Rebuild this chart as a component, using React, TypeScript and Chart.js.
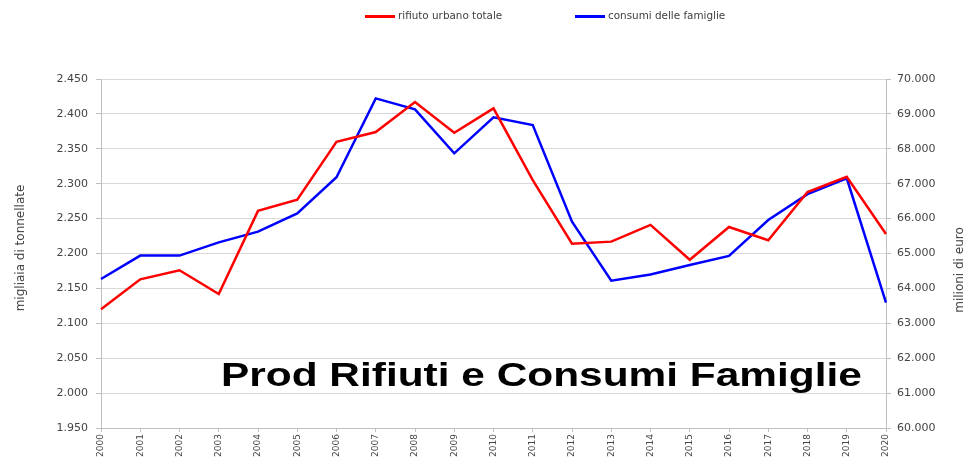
import React, { useEffect, useRef } from 'react';
import { Chart, registerables } from 'chart.js';

Chart.register(...registerables);

const years = ['2000', '2001', '2002', '2003', '2004', '2005', '2006', '2007', '2008', '2009', '2010', '2011', '2012', '2013', '2014', '2015', '2016', '2017', '2018', '2019', '2020'];
const rifiutoUrbano = [2120, 2163, 2176, 2142, 2261, 2277, 2360, 2374, 2417, 2373, 2408, 2305, 2214, 2217, 2241, 2191, 2238, 2219, 2288, 2310, 2228];
const consumiFamiglie = [64270, 64940, 64940, 65320, 65625, 66150, 67185, 69445, 69130, 67870, 68900, 68680, 65910, 64220, 64400, 64670, 64930, 65960, 66700, 67155, 63590];

const legendLabels = ['rifiuto urbano totale', 'consumi delle famiglie'];
const titleText = 'Prod Rifiuti e Consumi Famiglie';
const leftAxisTitle = 'migliaia di tonnellate';
const rightAxisTitle = 'milioni di euro';

const RED = '#ff0000';
const BLUE = '#0000ff';
const TICK_COLOR = '#444444';
const GRID = '#d9d9d9';
const AXIS = '#bfbfbf';

const fmt = (v: number) => Math.round(v).toString().replace(/\B(?=(\d{3})+(?!\d))/g, '.');

export default function App() {
  const ref = useRef<HTMLCanvasElement>(null);

  useEffect(() => {
    const chart = new Chart(ref.current!, {
      type: 'line',
      data: {
        labels: years,
        datasets: [
          {
            label: legendLabels[0],
            data: rifiutoUrbano,
            borderColor: RED,
            backgroundColor: RED,
            borderWidth: 2.5,
            pointRadius: 0,
            tension: 0,
            yAxisID: 'y',
          },
          {
            label: legendLabels[1],
            data: consumiFamiglie,
            borderColor: BLUE,
            backgroundColor: BLUE,
            borderWidth: 2.5,
            pointRadius: 0,
            tension: 0,
            yAxisID: 'y1',
          },
        ],
      },
      options: {
        animation: false,
        responsive: true,
        maintainAspectRatio: false,
        layout: { padding: { top: 79, left: 0, right: 0, bottom: 0 } },
        plugins: {
          legend: { display: false },
          tooltip: { enabled: false },
          title: { display: false },
        },
        scales: {
          x: {
            offset: false,
            grid: { display: true, drawOnChartArea: false, drawTicks: true, tickLength: 4, color: AXIS },
            border: { display: true, color: AXIS },
            ticks: {
              minRotation: 90,
              maxRotation: 90,
              autoSkip: false,
              padding: 2,
              color: TICK_COLOR,
              font: { family: 'DejaVu Sans', size: 9 },
            },
            afterFit: (s: any) => { s.height = 31; },
          },
          y: {
            position: 'left',
            min: 1950,
            max: 2450,
            ticks: {
              stepSize: 50,
              padding: 8,
              color: TICK_COLOR,
              font: { family: 'DejaVu Sans', size: 11 },
              callback: (v: any) => fmt(Number(v)),
            },
            grid: { color: GRID, lineWidth: 1, tickLength: 5, tickColor: AXIS },
            border: { display: true, color: AXIS },
            afterFit: (s: any) => { s.width = 101; },
          },
          y1: {
            position: 'right',
            min: 60000,
            max: 70000,
            ticks: {
              stepSize: 1000,
              padding: 6,
              color: TICK_COLOR,
              font: { family: 'DejaVu Sans', size: 11 },
              callback: (v: any) => fmt(Number(v)),
            },
            grid: { drawOnChartArea: false, tickLength: 5, color: AXIS },
            border: { display: true, color: AXIS },
            afterFit: (s: any) => { s.width = 82; },
          },
        },
      },
    });
    return () => chart.destroy();
  }, []);

  const textBase: React.CSSProperties = {
    position: 'absolute',
    fontFamily: 'DejaVu Sans',
    color: TICK_COLOR,
    whiteSpace: 'nowrap',
  };

  return (
    <div style={{ position: 'absolute', left: 0, top: 0, width: 968, height: 459, background: '#fff', overflow: 'hidden' }}>
      <canvas ref={ref} style={{ position: 'absolute', left: 0, top: 0 }} />
      {/* legend */}
      <div style={{ position: 'absolute', left: 365, top: 15, width: 30, height: 3, background: RED }} />
      <div style={{ ...textBase, left: 398, top: 9, fontSize: 10.4, lineHeight: '13px', color: '#404040' }}>{legendLabels[0]}</div>
      <div style={{ position: 'absolute', left: 575, top: 15, width: 30, height: 3, background: BLUE }} />
      <div style={{ ...textBase, left: 608, top: 9, fontSize: 10.4, lineHeight: '13px', color: '#404040' }}>{legendLabels[1]}</div>
      {/* axis titles */}
      <div style={{ ...textBase, left: 20 - 100, top: 248 - 8, width: 200, textAlign: 'center', fontSize: 12, lineHeight: '16px', transform: 'rotate(-90deg)' }}>{leftAxisTitle}</div>
      <div style={{ ...textBase, left: 959 - 100, top: 270 - 8, width: 200, textAlign: 'center', fontSize: 12, lineHeight: '16px', transform: 'rotate(-90deg)' }}>{rightAxisTitle}</div>
      {/* overlay title */}
      <div style={{ position: 'absolute', left: 221, top: 358, fontFamily: '"Liberation Sans", Arial, sans-serif', fontWeight: 'bold', fontSize: 33, lineHeight: '33px', color: '#000', whiteSpace: 'nowrap', transform: 'scaleX(1.285)', transformOrigin: 'left top' }}>{titleText}</div>
    </div>
  );
}
